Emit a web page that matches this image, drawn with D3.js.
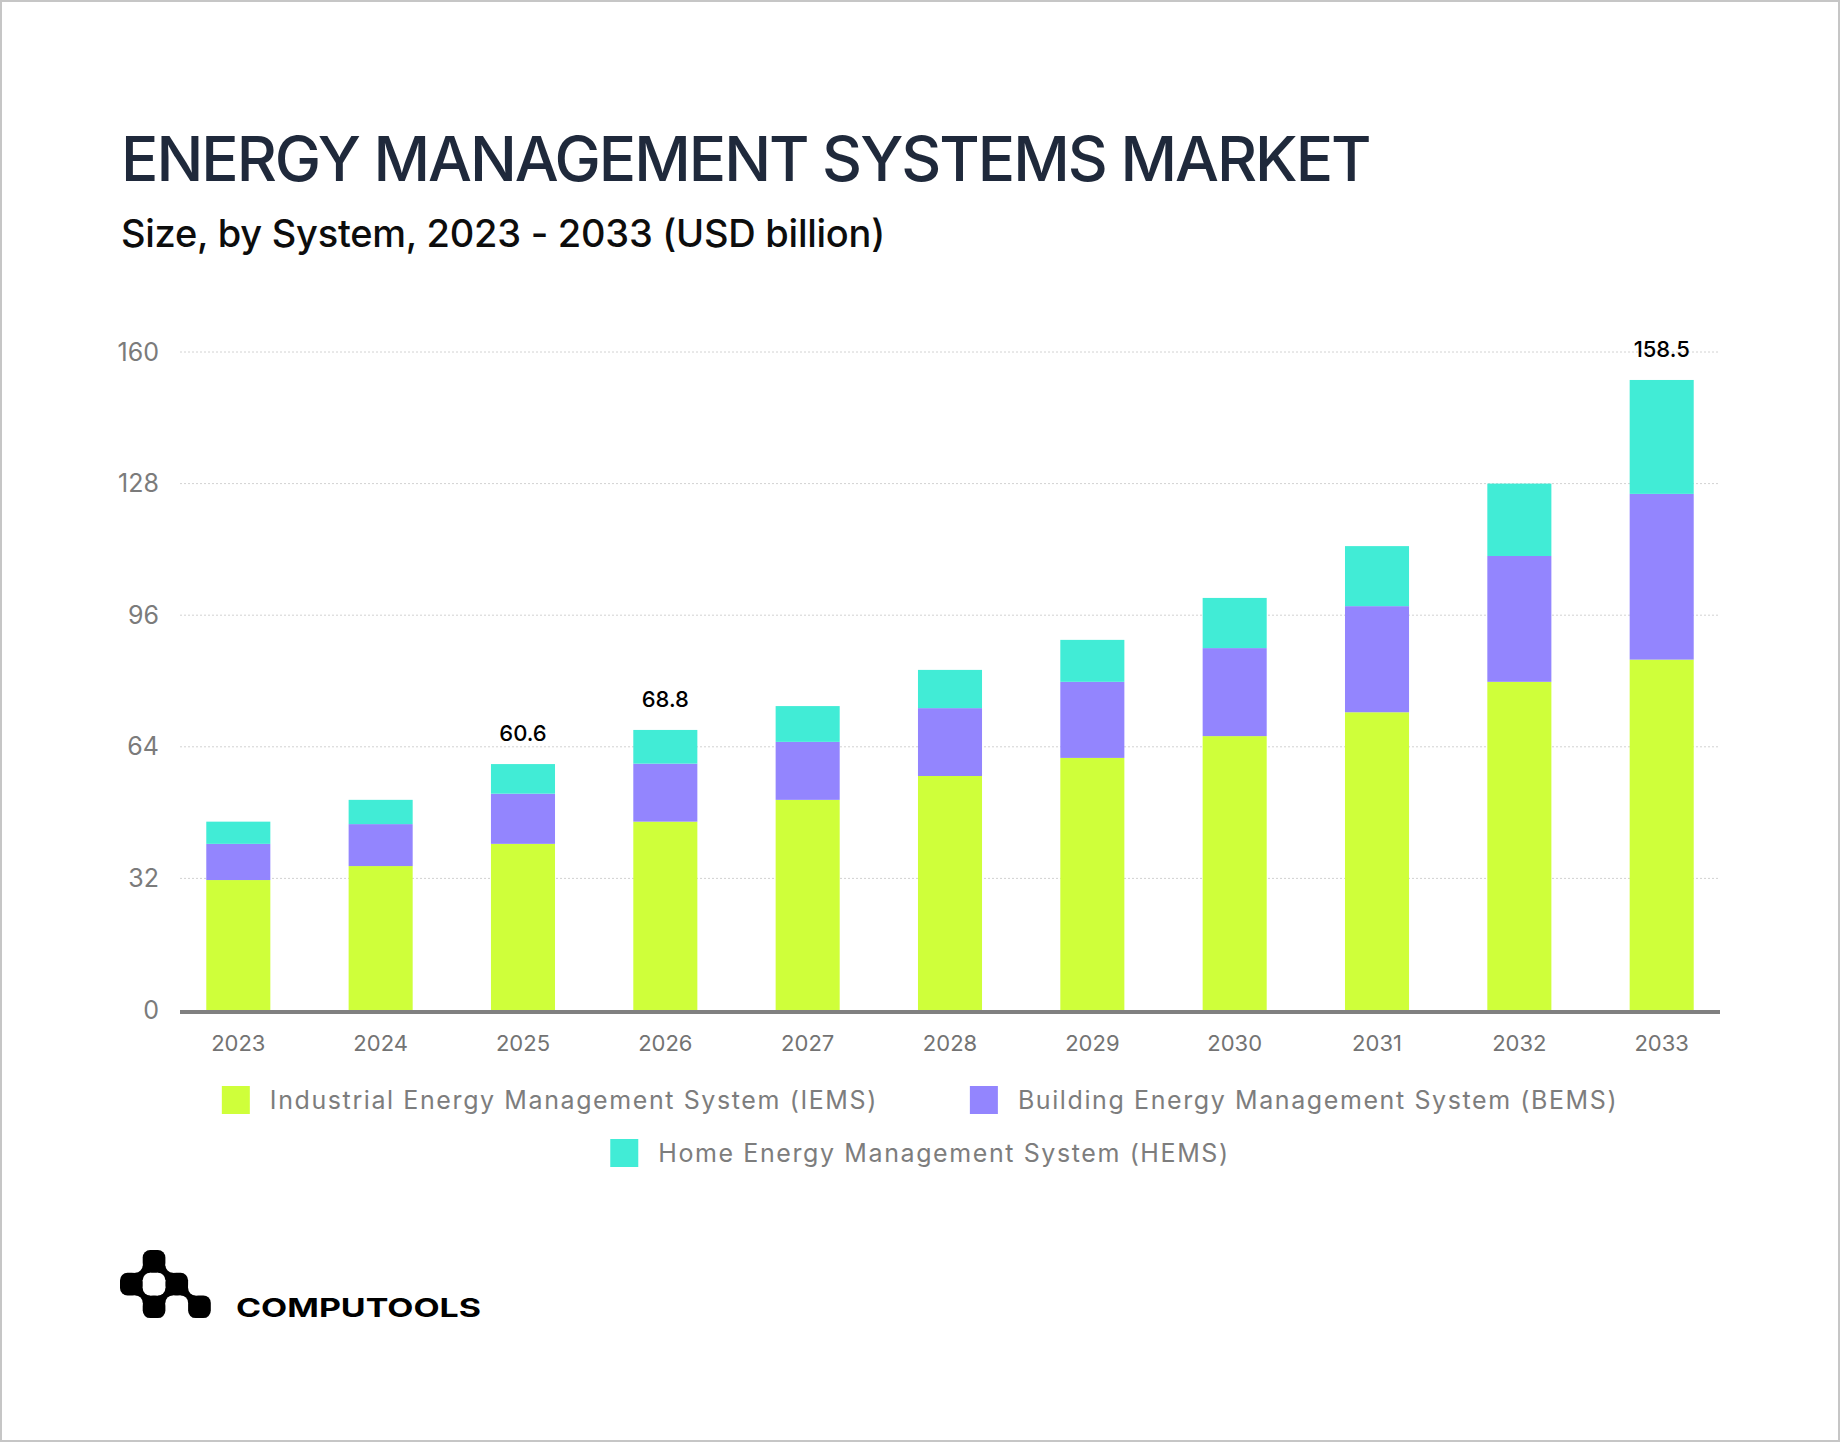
<!DOCTYPE html>
<html>
<head>
<meta charset="utf-8">
<script src="https://cdn.jsdelivr.net/npm/d3@7"></script>
<style>
  html, body { margin: 0; padding: 0; background: #fff; }
  svg { display: block; }
  text { font-family: Inter, "Noto Sans", sans-serif; }
</style>
</head>
<body>
<svg id="chart"></svg>
<script>
// chart data (USD billion)
const years = ['2023', '2024', '2025', '2026', '2027', '2028', '2029', '2030', '2031', '2032', '2033']
const iemsValues = [31.6, 35.0, 40.4, 45.8, 51.1, 56.9, 61.3, 66.6, 72.4, 79.8, 85.2]
const bemsValues = [8.8, 10.2, 12.2, 14.1, 14.1, 16.5, 18.5, 21.4, 25.8, 30.6, 40.3]
const hemsValues = [5.4, 5.9, 7.2, 8.2, 8.7, 9.3, 10.2, 12.2, 14.6, 17.6, 27.7]
const totalLabels = { '2025': '60.6', '2026': '68.8', '2033': '158.5' }
const yTicks = [0, 32, 64, 96, 128, 160]
const seriesKeys = ['iems', 'bems', 'hems']
const seriesNames = [
    'Industrial Energy Management System (IEMS)',
    'Building Energy Management System (BEMS)',
    'Home Energy Management System (HEMS)'
]
const seriesColors = ['#cfff3a', '#9385fe', '#41ecd6']

const width = 1840
const height = 1442

const svg = d3.select('#chart')
    .attr('width', width)
    .attr('height', height)

// page background + thin border
svg.append('rect')
    .attr('x', 1).attr('y', 1)
    .attr('width', width - 2).attr('height', height - 2)
    .attr('fill', '#fff')
    .attr('stroke', '#c6c6c6')
    .attr('stroke-width', 2)

// Titles
svg.append('text')
    .attr('x', 121).attr('y', 181)
    .attr('font-size', 62)
    .attr('font-weight', 500)
    .attr('letter-spacing', -2)
    .attr('fill', '#1f293b')
    .text('ENERGY MANAGEMENT SYSTEMS MARKET')

svg.append('text')
    .attr('x', 121).attr('y', 247)
    .attr('font-size', 38)
    .attr('font-weight', 500)
    .attr('letter-spacing', -0.25)
    .attr('fill', '#0d0d0d')
    .text('Size, by System, 2023 - 2033 (USD billion)')

// Scales
const plotLeft = 180
const plotRight = 1720

const x = d3.scaleBand()
    .domain(years)
    .range([128, 1772])
    .paddingInner(0.55)
    .paddingOuter(0.55)

const y = d3.scaleLinear()
    .domain([0, 160])
    .range([1010, 352])

const color = d3.scaleOrdinal()
    .domain(seriesKeys)
    .range(seriesColors)

// Gridlines
svg.append('g')
    .selectAll('line')
    .data(yTicks.filter(d => d > 0))
    .enter()
    .append('line')
    .attr('x1', plotLeft).attr('x2', plotRight)
    .attr('y1', d => y(d)).attr('y2', d => y(d))
    .attr('stroke', '#d2d2d2')
    .attr('stroke-width', 1)
    .attr('stroke-dasharray', '2,2')

// Y axis labels
const yAxis = d3.axisLeft(y).tickValues(yTicks).tickSize(0).tickPadding(0)
const yAxisG = svg.append('g')
    .attr('transform', 'translate(159,0)')
    .call(yAxis)
yAxisG.select('.domain').remove()
yAxisG.selectAll('text')
    .attr('font-family', 'Inter, sans-serif')
    .attr('font-size', 25)
    .attr('fill', '#7b7b7b')

// Stacked bars
const rows = years.map((yr, i) => ({ year: yr, iems: iemsValues[i], bems: bemsValues[i], hems: hemsValues[i] }))
const stacked = d3.stack().keys(seriesKeys)(rows)

svg.append('g')
    .selectAll('g')
    .data(stacked)
    .enter()
    .append('g')
    .attr('fill', d => color(d.key))
    .selectAll('rect')
    .data(d => d)
    .enter()
    .append('rect')
    .attr('x', d => x(d.data.year))
    .attr('width', x.bandwidth())
    .attr('y', d => y(d[1]))
    .attr('height', d => y(d[0]) - y(d[1]))

// Total labels on a few bars
const topStack = stacked[stacked.length - 1]
svg.append('g')
    .selectAll('text')
    .data(topStack.filter(d => totalLabels[d.data.year]))
    .enter()
    .append('text')
    .attr('x', d => x(d.data.year) + x.bandwidth() / 2)
    .attr('y', d => y(d[1]) - 23)
    .attr('text-anchor', 'middle')
    .attr('font-size', 22)
    .attr('font-weight', 500)
    .attr('fill', '#000')
    .text(d => totalLabels[d.data.year])

// X axis
svg.append('line')
    .attr('x1', plotLeft).attr('x2', plotRight)
    .attr('y1', 1012).attr('y2', 1012)
    .attr('stroke', '#808080')
    .attr('stroke-width', 4)

const xAxis = d3.axisBottom(x).tickSize(0).tickPadding(0)
const xAxisG = svg.append('g')
    .attr('transform', 'translate(0,1051)')
    .call(xAxis)
xAxisG.select('.domain').remove()
xAxisG.selectAll('text')
    .attr('dy', 0)
    .attr('font-family', 'Inter, sans-serif')
    .attr('font-size', 22)
    .attr('fill', '#737373')

// Legend (two rows, centred on page)
const legendRows = [[0, 1], [2]]
const legendCenter = 920
const swatch = 28
const itemGap = 92
legendRows.forEach((row, ri) => {
    const g = svg.append('g').attr('transform', `translate(0,${1086 + ri * 53})`)
    const items = row.map(i => {
        const item = g.append('g')
        item.append('rect')
            .attr('width', swatch).attr('height', swatch)
            .attr('fill', seriesColors[i])
        const t = item.append('text')
            .attr('x', 48).attr('y', 23)
            .attr('font-size', 25)
            .attr('letter-spacing', 1.6)
            .attr('fill', '#7d7d7d')
            .text(seriesNames[i])
        return { item: item, w: 48 + t.node().getComputedTextLength() }
    })
    const total = d3.sum(items, d => d.w) + itemGap * (items.length - 1)
    let cx = legendCenter - total / 2
    items.forEach(d => {
        d.item.attr('transform', `translate(${cx},0)`)
        cx += d.w + itemGap
    })
})

// Logo: checker mark (rounded cells joined with concave fillets) + wordmark
const logoCells = [[1, 0], [0, 1], [2, 1], [1, 2], [3, 2]]
const joints = [[1, 1], [2, 1], [1, 2], [2, 2], [3, 2]]
const cell = 22.7
const fillet = 7.5
const isFilled = (c, r) => logoCells.some(d => d[0] === c && d[1] === r)
const logo = svg.append('g').attr('transform', 'translate(120,1250)')
logo.selectAll('rect.cell')
    .data(logoCells)
    .enter()
    .append('rect')
    .attr('class', 'cell')
    .attr('x', d => d[0] * cell)
    .attr('y', d => d[1] * cell)
    .attr('width', cell).attr('height', cell)
    .attr('rx', fillet)
    .attr('fill', '#000')
logo.selectAll('rect.joint')
    .data(joints)
    .enter()
    .append('rect')
    .attr('class', 'joint')
    .attr('x', d => d[0] * cell - fillet)
    .attr('y', d => d[1] * cell - fillet)
    .attr('width', fillet * 2).attr('height', fillet * 2)
    .attr('fill', '#000')
// carve the fillets in the empty quadrants round each joint
const carves = []
joints.forEach(j => {
    [[-1, -1], [0, -1], [-1, 0], [0, 0]].forEach(q => {
        if (!isFilled(j[0] + q[0], j[1] + q[1])) {
            carves.push([j[0] * cell + (q[0] < 0 ? -fillet : fillet), j[1] * cell + (q[1] < 0 ? -fillet : fillet)])
        }
    })
})
logo.selectAll('circle')
    .data(carves)
    .enter()
    .append('circle')
    .attr('cx', d => d[0])
    .attr('cy', d => d[1])
    .attr('r', fillet)
    .attr('fill', '#fff')

svg.append('text')
    .attr('x', 236).attr('y', 1317)
    .attr('font-family', '"Liberation Sans", Arial, sans-serif')
    .attr('font-size', 26)
    .attr('font-weight', 700)
    .attr('textLength', 245)
    .attr('lengthAdjust', 'spacingAndGlyphs')
    .attr('fill', '#000')
    .text('COMPUTOOLS')
</script>
</body>
</html>
